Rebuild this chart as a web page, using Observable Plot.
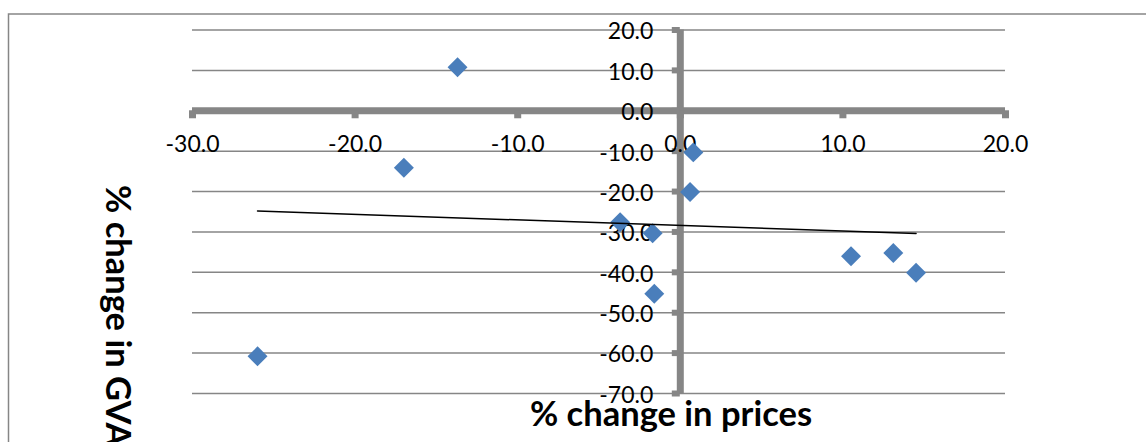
<!DOCTYPE html>
<html>
<head>
<meta charset="utf-8">
<script src="https://cdn.jsdelivr.net/npm/d3@7"></script>
<script src="https://cdn.jsdelivr.net/npm/@observablehq/plot@0.6"></script>
<style>
  html, body { margin: 0; padding: 0; background: #fff; }
  #chart svg { display: block; }
</style>
</head>
<body>
<div id="chart"></div>
<script>
// % change in prices vs % change in GVA, one point per sector
const priceChange = [-13.7, -17.0, -26.0, -3.7, -1.7, -1.6, 0.6, 0.8, 10.5, 13.1, 14.5];
const gvaChange   = [10.8, -14.1, -60.8, -27.6, -30.3, -45.3, -20.1, -10.3, -36.0, -35.2, -40.1];

const xTicks = [-30, -20, -10, 0, 10, 20];
const yTicks = [20, 10, 0, -10, -20, -30, -40, -50, -60, -70];

const xTitle = "% change in prices";
const yTitle = "% change in GVA";

const points = priceChange.map((x, i) => ({x, y: gvaChange[i]}));

const axisGrey = "#868686";
const pointBlue = "#4a7ebb";
const fmt = d => d.toFixed(1);

const chart = Plot.plot({
  width: 1146,
  height: 442,
  marginLeft: 192,
  marginRight: 141,
  marginTop: 29.5,
  marginBottom: 49,
  style: {fontFamily: "Lato, 'Open Sans', sans-serif", background: "#fff"},
  x: {domain: [-30, 20], axis: null},
  y: {domain: [-70, 20], axis: null},
  marks: [
    // outer chart border
    Plot.frame({stroke: axisGrey, strokeWidth: 1.5, insetLeft: -184, insetTop: -16, insetRight: -160, insetBottom: -80}),
    // horizontal gridlines
    Plot.ruleY(yTicks, {stroke: axisGrey, strokeWidth: 1.5}),
    // axes crossing at zero
    Plot.ruleY([0], {stroke: axisGrey, strokeWidth: 7}),
    Plot.ruleX([0], {stroke: axisGrey, strokeWidth: 7}),
    // tick marks
    Plot.ruleX(xTicks, {x: d => d, y1: 0, y2: 0, insetBottom: -8, stroke: axisGrey, strokeWidth: 7}),
    Plot.ruleY(yTicks, {y: d => d, x1: 0, x2: 0, insetLeft: -8, stroke: axisGrey, strokeWidth: 6}),
    // tick labels
    Plot.text(xTicks, {x: d => d, y: 0, dy: 34, text: fmt, fontSize: 23, fill: "#000"}),
    Plot.text(yTicks, {x: 0, y: d => d, dx: -27, dy: 2, text: fmt, textAnchor: "end", fontSize: 23, fill: "#000"}),
    // axis titles
    Plot.text([xTitle], {frameAnchor: "bottom", dx: 72, dy: 32, fontSize: 34.5, fontWeight: "bold", fill: "#000"}),
    Plot.text([yTitle], {frameAnchor: "top-left", dx: -62, dy: 155, rotate: 90, textAnchor: "start", fontSize: 34.5, fontWeight: "bold", fill: "#000"}),
    // observations
    Plot.dot(points, {x: "x", y: "y", symbol: "diamond2", r: 9, fill: pointBlue, stroke: "none"}),
    // least-squares trend line
    Plot.linearRegressionY(points, {x: "x", y: "y", ci: 0, stroke: "#000", strokeWidth: 1.5})
  ]
});

document.getElementById("chart").append(chart);
</script>
</body>
</html>
